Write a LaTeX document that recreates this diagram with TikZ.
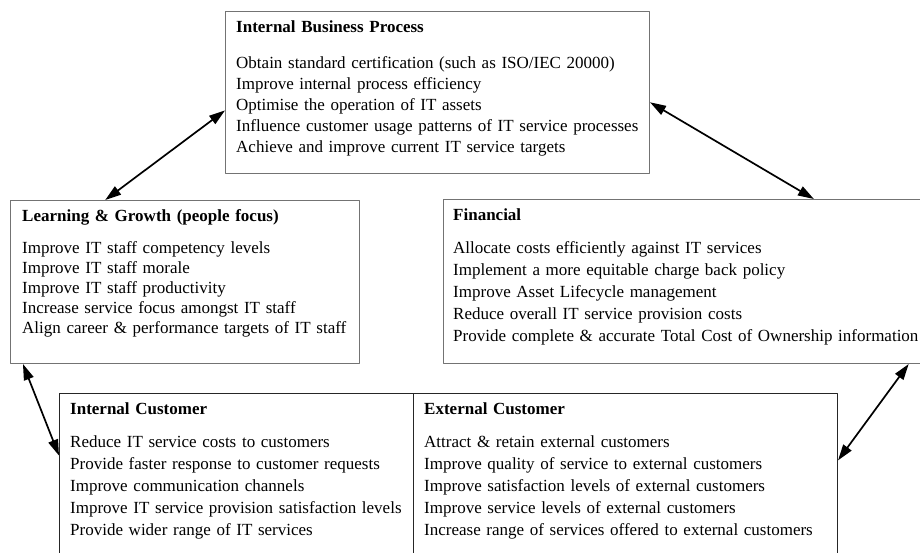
\documentclass[tikz,border=0pt]{standalone}
\usepackage{fontspec}
\setmainfont{Liberation Serif}
\usetikzlibrary{arrows.meta,positioning,calc}
\tikzset{
  panel/.style={draw=black!55,line width=1pt,anchor=north west,inner sep=0pt},
  darkpanel/.style={panel,draw=black!85},
  blurb/.style={anchor=base west,align=left,text width=520pt,inner sep=0pt,
                font=\fontsize{17}{#1}\selectfont},
  blurb/.default=20,
  link/.style={{Triangle[length=16pt,width=10pt]}-{Triangle[length=16pt,width=10pt]},
               line width=1.7pt},
  every picture/.style={line cap=round,line join=round}}

\begin{document}
\begin{tikzpicture}[x=1pt,y=-1pt]
  \useasboundingbox (0,0) rectangle (920,552);
  \clip (0,0) rectangle (920,552);
  % the four perspectives
  \node[panel,minimum width=424pt,minimum height=162pt] (ibp) at (225,11){};
  \node[panel,minimum width=349pt,minimum height=163pt] (lg) at (10,200){};
  \node[panel,minimum width=517pt,minimum height=164pt] (fin) at (443,199){};
  \node[darkpanel,minimum width=354pt,minimum height=170pt] (intc) at (59,393){};
  \node[darkpanel,minimum width=424pt,minimum height=170pt] (extc) at (413,393){};

  \node[blurb=21] (ibptext) at (236,32){\textbf{Internal Business Process}\\[15pt]
    Obtain standard certification (such as ISO/IEC 20000)\\
    Improve internal process efficiency\\
    Optimise the operation of IT assets\\
    Influence customer usage patterns of IT service processes\\
    Achieve and improve current IT service targets};
  \node[blurb] (lgtext) at (22,221){\textbf{Learning \& Growth (people focus)}\\[12pt]
    Improve IT staff competency levels\\
    Improve IT staff morale\\
    Improve IT staff productivity\\
    Increase service focus amongst IT staff\\
    Align career \& performance targets of IT staff};
  \node[blurb=22] (fintext) at (453,220){\textbf{Financial}\\[11pt]
    Allocate costs efficiently against IT services\\
    Implement a more equitable charge back policy\\
    Improve Asset Lifecycle management\\
    Reduce overall IT service provision costs\\
    Provide complete \& accurate Total Cost of Ownership information};
  \node[blurb=22] (intctext) at (70,414){\textbf{Internal Customer}\\[11pt]
    Reduce IT service costs to customers\\
    Provide faster response to customer requests\\
    Improve communication channels\\
    Improve IT service provision satisfaction levels\\
    Provide wider range of IT services};
  \node[blurb=22] (extctext) at (424,414){\textbf{External Customer}\\[11pt]
    Attract \& retain external customers\\
    Improve quality of service to external customers\\
    Improve satisfaction levels of external customers\\
    Improve service levels of external customers\\
    Increase range of services offered to external customers};

  % two-way links
  \draw[link] ($(lg.north west)!0.272!(lg.north east)$) -- ($(ibp.north west)!0.61!(ibp.south west)$);
  \draw[link] ($(ibp.north east)!0.56!(ibp.south east)$) -- ($(fin.north west)!0.716!(fin.north east)$);
  \draw[link] ($(lg.south west)!0.037!(lg.south east)$) -- ($(intc.north west)!0.366!(intc.south west)$);
  \draw[link] ($(fin.south west)!0.899!(fin.south east)$) -- ($(extc.north east)!0.394!(extc.south east)$);
\end{tikzpicture}
\end{document}
